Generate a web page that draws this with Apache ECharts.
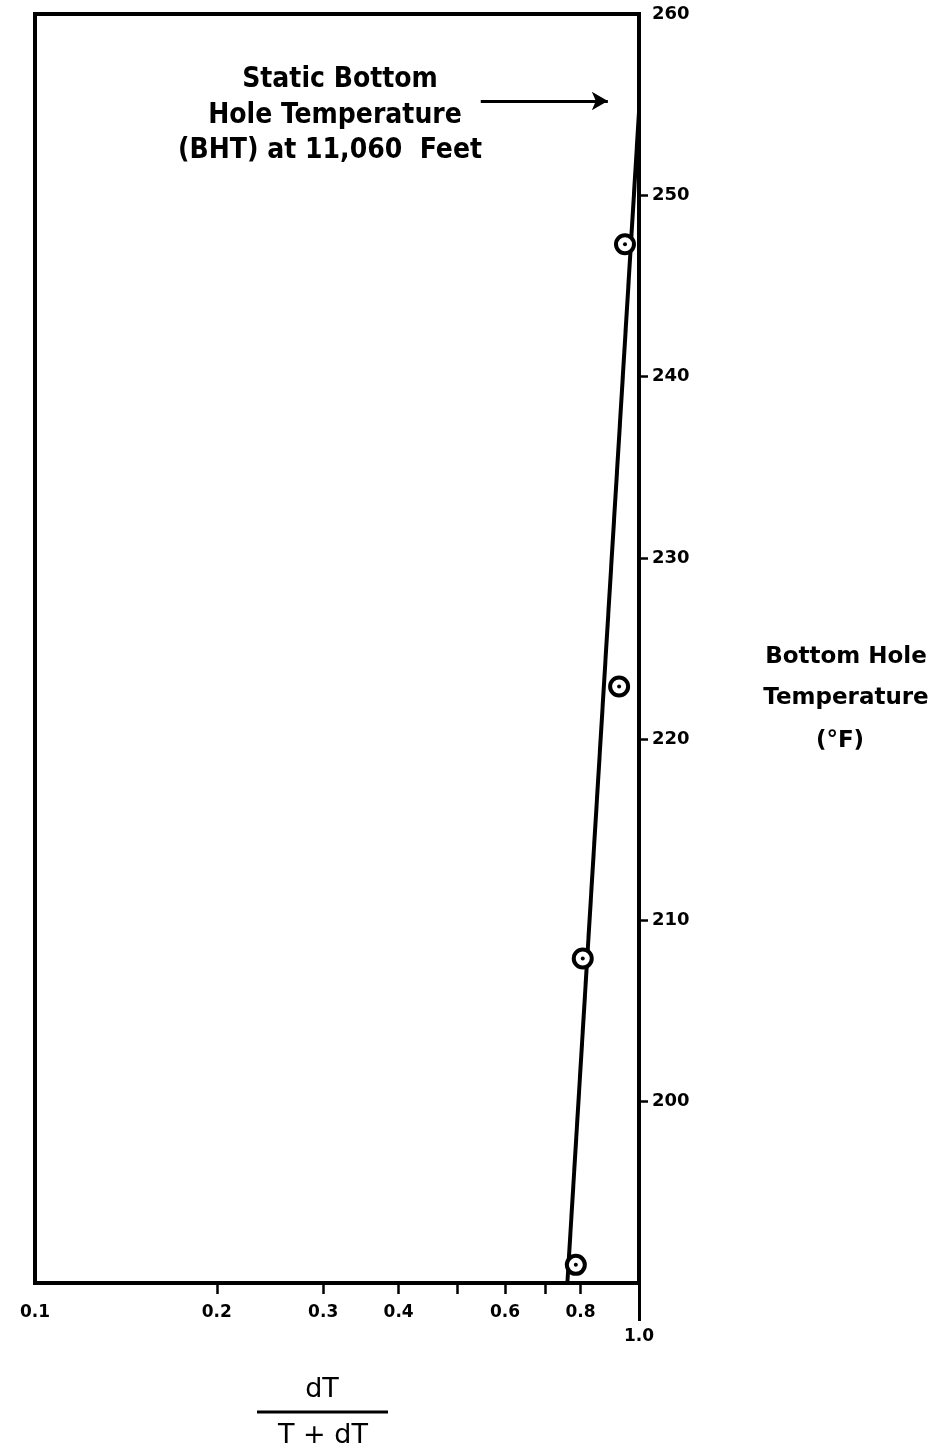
<!DOCTYPE html>
<html>
<head>
<meta charset="utf-8">
<script src="https://cdn.jsdelivr.net/npm/echarts@6/dist/echarts.min.js"></script>
<style>html,body{margin:0;padding:0;background:#fff;}#c{width:935px;height:1455px;}</style>
</head>
<body>
<div id="c"></div>
<script>
// ---- data ----
const pointX = [0.786, 0.807, 0.927, 0.948];
const pointY = [191.0, 207.9, 222.9, 247.3];
const fitX = [0.761, 1.0];
const fitY = [190, 254.6];
const arrowX = [0.547, 0.888];
const arrowY = [255.2, 255.2];
const xLabelVals = [0.1, 0.2, 0.3, 0.4, 0.6, 0.8, 1.0];
const xLabelTexts = ['0.1', '0.2', '0.3', '0.4', '0.6', '0.8', '1.0'];
const xTickVals = [0.2, 0.3, 0.4, 0.5, 0.6, 0.7, 0.8];
const yTickVals = [200, 210, 220, 230, 240, 250, 260];
const annotationLines = ['Static Bottom', 'Hole Temperature', '(BHT) at 11,060  Feet'];
const yTitleLines = ['Bottom Hole', 'Temperature', '(°F)'];
const xTitleNum = 'dT';
const xTitleDen = 'T + dT';

const chart = echarts.init(document.getElementById('c'), null, {renderer: 'canvas'});
const lg = v => Math.log10(v);
const labelFont = 'DejaVu Sans';

const option = {
  animation: false,
  backgroundColor: '#fff',
  grid: {left: 35, right: 296, top: 14, bottom: 172, show: true, borderColor: '#000', borderWidth: 4, backgroundColor: 'transparent'},
  xAxis: [
    {type: 'log', logBase: 10, min: 0.1, max: 1, axisLine: {show: false}, axisTick: {show: false}, axisLabel: {show: false}, splitLine: {show: false}},
    {type: 'value', min: -1, max: 0, position: 'bottom', axisLine: {show: false}, splitLine: {show: false},
      axisTick: {show: true, customValues: xTickVals.map(lg), length: 11, lineStyle: {color: '#000', width: 2.5}},
      axisLabel: {show: true, customValues: xLabelVals.map(lg), margin: 18, lineHeight: 24, color: '#000', fontFamily: labelFont, fontWeight: 'bold', fontSize: 17,
        formatter: function (v) {
          let best = 0, d = 1e9;
          xLabelVals.forEach((x, i) => { const dd = Math.abs(lg(x) - v); if (dd < d) { d = dd; best = i; } });
          return best === xLabelVals.length - 1 ? '\n' + xLabelTexts[best] : xLabelTexts[best];
        }}},
    {type: 'value', min: -1, max: 0, position: 'bottom', axisLine: {show: false}, splitLine: {show: false}, axisLabel: {show: false},
      axisTick: {show: true, customValues: [lg(1.0)], length: 38, lineStyle: {color: '#000', width: 3}}}
  ],
  yAxis: {
    type: 'value', position: 'right', min: 190, max: 260, interval: 10,
    axisLine: {show: false}, splitLine: {show: false},
    axisTick: {show: true, customValues: yTickVals.slice(0, -1), length: 9, lineStyle: {color: '#000', width: 2.5}},
    axisLabel: {show: true, customValues: yTickVals, margin: 13, color: '#000', fontFamily: labelFont, fontWeight: 'bold', fontSize: 18}
  },
  series: [
    {type: 'line', xAxisIndex: 0, data: fitX.map((x, i) => [x, fitY[i]]), symbol: 'none', lineStyle: {color: '#000', width: 4}, silent: true,
      markLine: {silent: true, symbol: ['none', 'arrow'], symbolSize: [14, 16], label: {show: false},
        lineStyle: {color: '#000', width: 3, type: 'solid'},
        data: [[{coord: [arrowX[0], arrowY[0]]}, {coord: [arrowX[1], arrowY[1]]}]]}},
    {type: 'scatter', xAxisIndex: 0, data: pointX.map((x, i) => [x, pointY[i]]), symbol: 'circle', symbolSize: 18,
      itemStyle: {color: '#fff', borderColor: '#000', borderWidth: 4, opacity: 1}, z: 5},
    {type: 'scatter', xAxisIndex: 0, data: pointX.map((x, i) => [x, pointY[i]]), symbol: 'circle', symbolSize: 4,
      itemStyle: {color: '#000', opacity: 1}, z: 6}
  ],
  graphic: [
    {type: 'text', x: 340, y: 80, style: {text: annotationLines[0], font: 'bold 28px "DejaVu Sans Condensed"', fill: '#000', align: 'center', verticalAlign: 'middle'}},
    {type: 'text', x: 335, y: 116, style: {text: annotationLines[1], font: 'bold 28px "DejaVu Sans Condensed"', fill: '#000', align: 'center', verticalAlign: 'middle'}},
    {type: 'text', x: 330, y: 151, style: {text: annotationLines[2], font: 'bold 28px "DejaVu Sans Condensed"', fill: '#000', align: 'center', verticalAlign: 'middle'}},
    {type: 'text', x: 846, y: 657, style: {text: yTitleLines[0], font: 'bold 23px "DejaVu Sans"', fill: '#000', align: 'center', verticalAlign: 'middle'}},
    {type: 'text', x: 846, y: 698, style: {text: yTitleLines[1], font: 'bold 23px "DejaVu Sans"', fill: '#000', align: 'center', verticalAlign: 'middle'}},
    {type: 'text', x: 840, y: 741, style: {text: yTitleLines[2], font: 'bold 23px "DejaVu Sans"', fill: '#000', align: 'center', verticalAlign: 'middle'}},
    {type: 'text', x: 322, y: 1390, style: {text: xTitleNum, font: '27px "DejaVu Sans"', fill: '#000', align: 'center', verticalAlign: 'middle'}},
    {type: 'line', shape: {x1: 257, y1: 1412, x2: 388, y2: 1412}, style: {stroke: '#000', lineWidth: 3}},
    {type: 'text', x: 323, y: 1436, style: {text: xTitleDen, font: '27px "DejaVu Sans"', fill: '#000', align: 'center', verticalAlign: 'middle'}}
  ]
};
chart.setOption(option);
</script>
</body>
</html>
